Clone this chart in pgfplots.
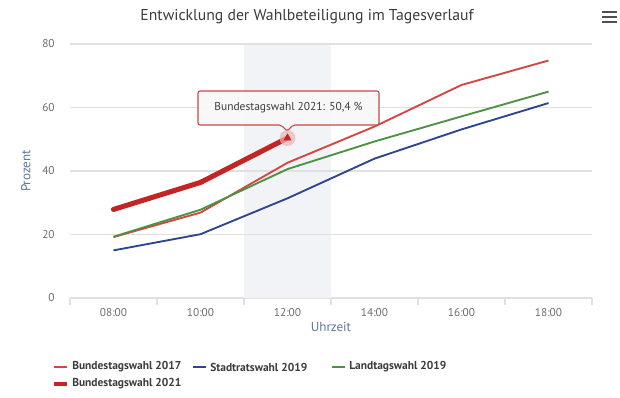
\documentclass[border=0pt]{standalone}
\usepackage{pgfplots}
\pgfplotsset{compat=1.18}
\usepackage{fontspec}
\setmainfont{PT Sans}
\definecolor{bt17}{RGB}{214,69,65}
\definecolor{sr19}{RGB}{45,70,140}
\definecolor{lt19}{RGB}{76,146,66}
\definecolor{bt21}{RGB}{196,36,36}
\definecolor{band}{RGB}{241,243,247}
\definecolor{gridc}{RGB}{224,224,224}
\definecolor{tickc}{RGB}{110,110,110}
\definecolor{labc}{RGB}{95,120,160}
\definecolor{titc}{RGB}{60,60,60}
\definecolor{tipfill}{RGB}{248,248,248}
\definecolor{halo}{RGB}{236,180,180}
\begin{document}
\begin{tikzpicture}
\begin{scope}[x=0.75pt,y=0.75pt]
\path[fill=white,use as bounding box] (0,0) rectangle (620,397);
\end{scope}
\begin{axis}[
  at={(52.5pt,74.25pt)}, anchor=south west,
  scale only axis, width=391.5pt, height=190.5pt,
  xmin=-0.5, xmax=5.5, ymin=0, ymax=80,
  xtick={0,1,2,3,4,5},
  xticklabels={08:00,10:00,12:00,14:00,16:00,18:00},
  minor xtick={-0.5,0.5,1.5,2.5,3.5,4.5,5.5},
  ytick={0,20,40,60,80},
  axis x line=bottom, axis y line=left,
  axis line style={-, draw=gridc, line width=0.8pt},
  y axis line style={draw=none},
  ymajorgrids, grid style={gridc, line width=0.8pt},
  major tick length=0pt, minor tick length=5pt,
  tick align=outside,
  minor tick style={gridc, line width=0.8pt},
  every tick label/.style={font=\fontsize{8.5}{9}\selectfont, text=tickc},
  /pgf/number format/assume math mode=true,
  yticklabel style={xshift=-8pt},
  xticklabel style={yshift=-4pt},
  xlabel={Uhrzeit}, ylabel={Prozent},
  xlabel style={font=\fontsize{9.8}{11}\selectfont, text=labc, yshift=2pt},
  ylabel style={font=\fontsize{9.8}{11}\selectfont, text=labc, yshift=2pt},
  clip=false,
]
\addplot[draw=none, fill=band, forget plot] coordinates {(1.5,0) (1.5,80) (2.5,80) (2.5,0)} -- cycle;
\addplot[gridc, line width=0.8pt, forget plot] coordinates {(1.5,20) (2.5,20)};
\addplot[gridc, line width=0.8pt, forget plot] coordinates {(1.5,40) (2.5,40)};
\addplot[gridc, line width=0.8pt, forget plot] coordinates {(1.5,60) (2.5,60)};
\addplot[gridc, line width=0.8pt, forget plot] coordinates {(1.5,80) (2.5,80)};
% Bundestagswahl 2017
\addplot[bt17, line width=1.4pt, line join=round] coordinates {
  (0,19.2) (1,26.9) (2,42.6) (3,54.0) (4,67.1) (5,74.8)};
% Stadtratswahl 2019
\addplot[sr19, line width=1.4pt, line join=round] coordinates {
  (0,15.0) (1,20.1) (2,31.4) (3,43.9) (4,53.1) (5,61.4)};
% Landtagswahl 2019
\addplot[lt19, line width=1.4pt, line join=round] coordinates {
  (0,19.3) (1,27.8) (2,40.6) (3,49.3) (4,57.2) (5,65.0)};
% Bundestagswahl 2021
\addplot[bt21, line width=3.8pt, line join=round, line cap=round] coordinates {
  (0,27.9) (1,36.4) (2,50.4)};
\addplot[only marks, draw=none, mark=*, mark size=6pt, mark options={draw=none, draw opacity=0, fill=halo, fill opacity=0.7, line width=0pt}] coordinates {(2,50.4)};
\addplot[only marks, mark=triangle*, mark size=3pt, mark options={draw=bt21, fill=bt21}] coordinates {(2,50.4)};
\end{axis}
\begin{scope}[x=0.75pt,y=0.75pt]
% title
\node[font=\fontsize{11.8}{13}\selectfont, text=titc] at (307,380) {Entwicklung der Wahlbeteiligung im Tagesverlauf};
% menu icon
\foreach \yy in {375,380,385} \draw[titc!90, line width=1.9pt] (602,\yy) -- (617,\yy);
% tooltip
\draw[bt21!85, line width=0.8pt, fill=tipfill, fill opacity=0.95, rounded corners=1.5pt]
  (198,272) -- (281,272) -- (287,266) -- (293,272) -- (379,272) -- (379,306) -- (198,306) -- cycle;
\node[font=\fontsize{8.6}{10}\selectfont, text=titc] at (288.5,289) {Bundestagswahl 2021: 50,4 \%};
% legend
\begin{scope}[every node/.style={font=\bfseries\fontsize{8.6}{10}\selectfont, text=titc, anchor=west, inner sep=0pt}]
\draw[bt17, line width=1.4pt] (54,30) -- (67,30); \node at (72,30) {Bundestagswahl 2017};
\draw[sr19, line width=1.4pt] (193,30) -- (206,30); \node at (210,30) {Stadtratswahl 2019};
\draw[lt19, line width=1.4pt] (332,30) -- (345,30); \node at (349,30) {Landtagswahl 2019};
\draw[bt21, line width=3.5pt] (54,13) -- (67,13); \node at (72,13) {Bundestagswahl 2021};
\end{scope}
\end{scope}
\end{tikzpicture}
\end{document}
